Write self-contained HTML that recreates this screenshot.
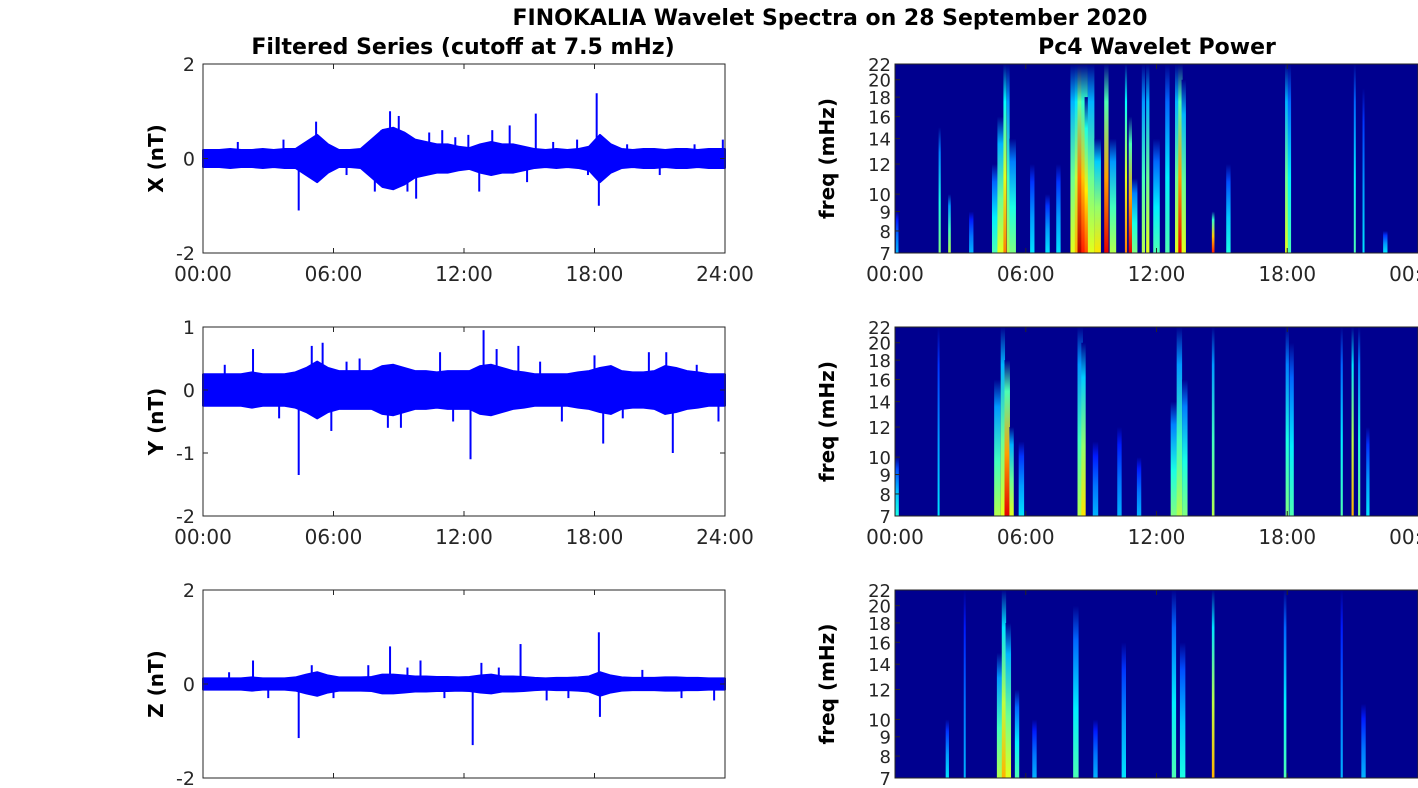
<!DOCTYPE html>
<html><head><meta charset="utf-8">
<style>
html,body{margin:0;padding:0;background:#fff;}
svg{display:block;font-family:"DejaVu Sans","Liberation Sans",sans-serif;}
</style></head>
<body>
<svg id="fig" width="1418" height="788" viewBox="0 0 1418 788" xmlns="http://www.w3.org/2000/svg">
<text x="830" y="25" text-anchor="middle" font-size="22" font-weight="bold" fill="#000">FINOKALIA Wavelet Spectra on 28 September 2020</text>
<text x="463" y="54" text-anchor="middle" font-size="22" font-weight="bold" fill="#000">Filtered Series (cutoff at 7.5 mHz)</text>
<text x="1157" y="54" text-anchor="middle" font-size="22" font-weight="bold" fill="#000">Pc4 Wavelet Power</text>
<g id="plots"></g>
</svg>
<script>
// ---- data ----
const hourTicks = [0, 6, 12, 18, 24];
const hourTickLabels = ["00:00", "06:00", "12:00", "18:00", "24:00"];
const freqTicks = [7, 8, 9, 10, 12, 14, 16, 18, 20, 22];
// half-hour envelope amplitudes (nT)
const envX = [0.18,0.18,0.2,0.18,0.18,0.2,0.18,0.2, 0.2,0.35,0.5,0.3, 0.18,0.18,0.2,0.4, 0.6,0.65,0.55,0.4, 0.35,0.3,0.3,0.25, 0.22,0.3,0.35,0.3, 0.3,0.25,0.2,0.18, 0.2,0.18,0.2,0.25, 0.5,0.3,0.2,0.18, 0.2,0.2,0.18,0.2,0.2,0.18,0.2,0.2];
const envY = [0.25,0.25,0.25,0.25,0.28,0.25,0.25,0.25, 0.28,0.35,0.45,0.35, 0.3,0.3,0.3,0.3, 0.38,0.4,0.35,0.3, 0.3,0.28,0.3,0.3, 0.3,0.38,0.4,0.35, 0.3,0.28,0.25,0.25, 0.25,0.25,0.28,0.3, 0.35,0.38,0.3,0.28, 0.28,0.3,0.38,0.35,0.3,0.28,0.25,0.25];
const envZ = [0.12,0.12,0.12,0.12,0.14,0.12,0.12,0.12, 0.14,0.2,0.25,0.18, 0.14,0.14,0.14,0.15, 0.2,0.2,0.18,0.16, 0.16,0.15,0.15,0.14, 0.15,0.18,0.2,0.16, 0.16,0.15,0.13,0.12, 0.13,0.13,0.14,0.16, 0.25,0.18,0.14,0.13, 0.13,0.13,0.14,0.14,0.13,0.13,0.12,0.12];
const spikeTX = [3.7,4.4,5.2,8.6,9.0,9.8,11.0,12.7,14.1,15.3,16.1,17.2,18.1,18.2,1.6,7.9,10.4,13.3,6.6,8.2,9.4,11.6,12.2,14.9,17.7,19.5,21.0,22.6,23.9];
const spikeVX = [0.4,-1.1,0.78,1.0,0.9,-0.85,0.6,-0.7,0.7,0.95,0.35,0.4,1.38,-1.0,0.35,-0.7,0.55,0.6,-0.35,0.6,-0.7,0.45,0.5,-0.5,-0.35,0.3,-0.35,0.3,0.4];
const spikeTY = [2.3,4.4,5.0,5.5,5.9,8.5,10.9,12.3,12.9,13.5,14.5,16.5,18.4,18.0,20.5,21.3,21.6,23.7,7.2,9.1,1.0,3.5,6.6,11.5,15.5,19.3,22.7];
const spikeVY = [0.65,-1.35,0.7,0.75,-0.65,-0.6,0.6,-1.1,0.95,0.65,0.7,-0.5,-0.85,0.55,0.6,0.6,-1.0,-0.5,0.5,-0.6,0.4,-0.45,0.45,-0.5,0.45,-0.45,0.4];
const spikeTZ = [2.3,4.4,5.0,8.6,10.0,12.4,12.8,14.6,18.2,18.25,3.0,22.0,7.6,15.8,1.2,6.0,9.4,11.1,13.6,16.8,20.2,23.5];
const spikeVZ = [0.5,-1.15,0.4,0.8,0.5,-1.3,0.45,0.85,1.1,-0.7,-0.3,-0.3,0.4,-0.35,0.25,-0.3,0.35,-0.3,0.35,-0.3,0.3,-0.35];
// wavelet events: time (h), top freq reach (mHz), peak power (0-1), width (h)
const evT1 = [0.1,2.05,2.5,4.6,4.85,5.05,5.2,5.4,7.5,8.2,8.4,8.55,8.7,8.85,9.0,9.3,9.7,10.0,10.6,10.8,11.4,11.6,12.0,12.5,13.0,13.1,13.25,14.6,15.3,18.0,18.1,21.1,21.5,22.5,3.5,6.3,7.0,11.0];
const evF1 = [9,15,10,12,16,22,22,14,12,22,22,22,22,18,22,14,22,14,22,16,22,22,14,22,22,22,20,9,12,22,22,22,19,8,9,12,10,11];
const evP1 = [0.3,0.5,0.55,0.45,0.6,0.75,0.55,0.5,0.35,0.6,0.7,0.95,0.85,0.8,0.6,0.65,0.9,0.55,0.75,0.9,0.55,0.6,0.45,0.45,0.6,0.9,0.6,0.85,0.4,0.6,0.45,0.45,0.35,0.35,0.3,0.35,0.35,0.5];
const evW1 = [0.12,0.1,0.12,0.3,0.3,0.15,0.12,0.3,0.2,0.3,0.3,0.35,0.3,0.3,0.3,0.3,0.2,0.3,0.1,0.15,0.15,0.15,0.3,0.2,0.3,0.2,0.2,0.12,0.2,0.2,0.15,0.08,0.08,0.2,0.2,0.2,0.2,0.25];
const evT2 = [0.1,2.0,4.7,4.95,5.15,5.35,8.5,8.65,12.8,13.05,13.3,14.6,18.0,18.2,20.5,21.0,21.3,21.7,10.3,5.8,9.2,11.2];
const evF2 = [10,22,16,22,18,12,22,20,14,22,16,22,22,20,22,22,22,12,12,11,11,10];
const evP2 = [0.4,0.35,0.55,0.6,0.9,0.6,0.55,0.65,0.5,0.55,0.5,0.55,0.5,0.45,0.45,0.7,0.5,0.35,0.3,0.35,0.3,0.3];
const evW2 = [0.15,0.08,0.3,0.2,0.25,0.2,0.25,0.2,0.3,0.25,0.25,0.12,0.15,0.2,0.1,0.1,0.1,0.15,0.2,0.25,0.25,0.2];
const evT3 = [2.4,3.2,4.8,5.0,5.2,5.6,8.3,10.5,12.8,13.2,14.6,17.9,20.5,21.5,6.4,9.2];
const evF3 = [10,22,15,22,18,12,20,16,22,16,22,22,22,11,10,10];
const evP3 = [0.35,0.3,0.55,0.7,0.6,0.45,0.45,0.35,0.45,0.4,0.7,0.45,0.3,0.3,0.3,0.3];
const evW3 = [0.15,0.08,0.25,0.2,0.25,0.2,0.25,0.2,0.2,0.25,0.12,0.12,0.1,0.2,0.2,0.2];

// ---- helpers ----
const NS = "http://www.w3.org/2000/svg";
const plots = document.getElementById("plots");
function mk(tag, attrs, parent) {
  const e = document.createElementNS(NS, tag);
  for (const k in attrs) e.setAttribute(k, attrs[k]);
  (parent || plots).appendChild(e);
  return e;
}
function jet(v) {
  const c = x => Math.round(255 * Math.max(0, Math.min(1, x)));
  const r = c(1.5 - Math.abs(4 * v - 3)), g = c(1.5 - Math.abs(4 * v - 2)), b = c(1.5 - Math.abs(4 * v - 1));
  return `rgb(${r},${g},${b})`;
}
const rows = [{top: 64, bot: 253}, {top: 327, bot: 516}, {top: 590, bot: 778}];
const L = {x0: 203, x1: 725}, R = {x0: 895, x1: 1418};
const defs = mk("defs", {}, document.getElementById("fig"));

function leftPanel(ri, env, st, sv, ymin, ymax, yTicks, label, showX) {
  const r = rows[ri];
  const xs = t => L.x0 + t / 24 * (L.x1 - L.x0);
  const ys = v => r.bot - (v - ymin) / (ymax - ymin) * (r.bot - r.top);
  const g = mk("g", {});
  
  
  mk("rect", {x: L.x0, y: r.top, width: L.x1 - L.x0, height: r.bot - r.top, fill: "#fff"}, g);
  const up = [], dn = [];
  env.forEach((a, i) => {
    const tm = i * 0.5 + 0.25;
    up.push(`${xs(tm)},${ys(a)}`);
    dn.push(`${xs(tm)},${ys(-a)}`);
  });
  up.unshift(`${xs(0)},${ys(env[0])}`); up.push(`${xs(24)},${ys(env[env.length - 1])}`);
  dn.unshift(`${xs(0)},${ys(-env[0])}`); dn.push(`${xs(24)},${ys(-env[env.length - 1])}`);
  const band = mk("polygon", {points: up.concat(dn.reverse()).join(" "), fill: "#0000ff", stroke: "#0000ff", "stroke-width": 2, "stroke-linejoin": "round"}, g);
  
  
  st.forEach((t, i) => {
    const s = mk("line", {x1: xs(t), x2: xs(t), y1: ys(0), y2: ys(sv[i]), stroke: "#0000ff", "stroke-width": 2}, g);
    
    
  });
  mk("rect", {x: L.x0, y: r.top, width: L.x1 - L.x0, height: r.bot - r.top, fill: "none", stroke: "#262626", "stroke-width": 1}, g);
  yTicks.forEach(v => {
    mk("line", {x1: L.x0, x2: L.x0 + 5, y1: ys(v), y2: ys(v), stroke: "#262626"}, g);
    mk("line", {x1: L.x1, x2: L.x1 - 5, y1: ys(v), y2: ys(v), stroke: "#262626"}, g);
    const tx = mk("text", {x: L.x0 - 8, y: ys(v) + 7, "text-anchor": "end", "font-size": 19, fill: "#262626"}, g);
    tx.textContent = v;
    
    
  });
  hourTicks.forEach((h, i) => {
    mk("line", {x1: xs(h), x2: xs(h), y1: r.bot, y2: r.bot - 5, stroke: "#262626"}, g);
    mk("line", {x1: xs(h), x2: xs(h), y1: r.top, y2: r.top + 5, stroke: "#262626"}, g);
    if (showX) {
      const tx = mk("text", {x: xs(h), y: r.bot + 28, "text-anchor": "middle", "font-size": 20, fill: "#262626"}, g);
      tx.textContent = hourTickLabels[i];
      
      
    }
  });
  const yl = mk("text", {x: 0, y: 0, transform: `translate(163,${(r.top + r.bot) / 2}) rotate(-90)`, "text-anchor": "middle", "font-size": 20, "font-weight": "bold", fill: "#000"}, g);
  yl.textContent = label;
  
  
}

function rightPanel(ri, et, ef, ep, ew, showX) {
  const r = rows[ri];
  const xs = t => R.x0 + t / 24 * (R.x1 - R.x0);
  const fmin = 7, fmax = 22;
  const ys = f => r.bot - Math.log(f / fmin) / Math.log(fmax / fmin) * (r.bot - r.top);
  const g = mk("g", {});
  
  
  const clipId = "clip" + ri;
  const cp = mk("clipPath", {id: clipId}, defs);
  mk("rect", {x: R.x0, y: r.top, width: R.x1 - R.x0, height: r.bot - r.top}, cp);
  mk("rect", {x: R.x0, y: r.top, width: R.x1 - R.x0, height: r.bot - r.top, fill: "#00008f"}, g);
  const sg = mk("g", {"clip-path": `url(#${clipId})`}, g);
  et.forEach((t, i) => {
    const gid = `gr${ri}_${i}`;
    const lg = mk("linearGradient", {id: gid, x1: 0, y1: 1, x2: 0, y2: 0}, defs);
    mk("stop", {offset: 0, "stop-color": jet(ep[i])}, lg);
    mk("stop", {offset: 0.4, "stop-color": jet(ep[i] * 0.8)}, lg);
    mk("stop", {offset: 0.8, "stop-color": jet(ep[i] * 0.5)}, lg);
    mk("stop", {offset: 1, "stop-color": "#00008f"}, lg);
    const w = Math.max(2, ew[i] / 24 * (R.x1 - R.x0));
    const s = mk("rect", {x: xs(t) - w / 2, y: ys(ef[i]), width: w, height: r.bot - ys(ef[i]), fill: `url(#${gid})`}, sg);
    
    
  });
  mk("rect", {x: R.x0, y: r.top, width: R.x1 - R.x0, height: r.bot - r.top, fill: "none", stroke: "#262626", "stroke-width": 1}, g);
  freqTicks.forEach(f => {
    mk("line", {x1: R.x0, x2: R.x0 + 5, y1: ys(f), y2: ys(f), stroke: "#262626"}, g);
    const tx = mk("text", {x: R.x0 - 4, y: ys(f) + 7, "text-anchor": "end", "font-size": 18, fill: "#262626"}, g);
    tx.textContent = f;
    
    
  });
  hourTicks.forEach((h, i) => {
    mk("line", {x1: xs(h), x2: xs(h), y1: r.bot, y2: r.bot - 5, stroke: "#262626"}, g);
    mk("line", {x1: xs(h), x2: xs(h), y1: r.top, y2: r.top + 5, stroke: "#262626"}, g);
    if (showX) {
      const tx = mk("text", {x: xs(h), y: r.bot + 28, "text-anchor": "middle", "font-size": 20, fill: "#262626"}, g);
      tx.textContent = i === 4 ? "00:00" : hourTickLabels[i];
      
      
    }
  });
  const yl = mk("text", {x: 0, y: 0, transform: `translate(834,${(r.top + r.bot) / 2}) rotate(-90)`, "text-anchor": "middle", "font-size": 20, "font-weight": "bold", fill: "#000"}, g);
  yl.textContent = "freq (mHz)";
  
  
}

leftPanel(0, envX, spikeTX, spikeVX, -2, 2, [-2, 0, 2], "X (nT)", true);
leftPanel(1, envY, spikeTY, spikeVY, -2, 1, [-2, -1, 0, 1], "Y (nT)", true);
leftPanel(2, envZ, spikeTZ, spikeVZ, -2, 2, [-2, 0, 2], "Z (nT)", false);
rightPanel(0, evT1, evF1, evP1, evW1, true);
rightPanel(1, evT2, evF2, evP2, evW2, true);
rightPanel(2, evT3, evF3, evP3, evW3, false);
</script>
</body></html>
